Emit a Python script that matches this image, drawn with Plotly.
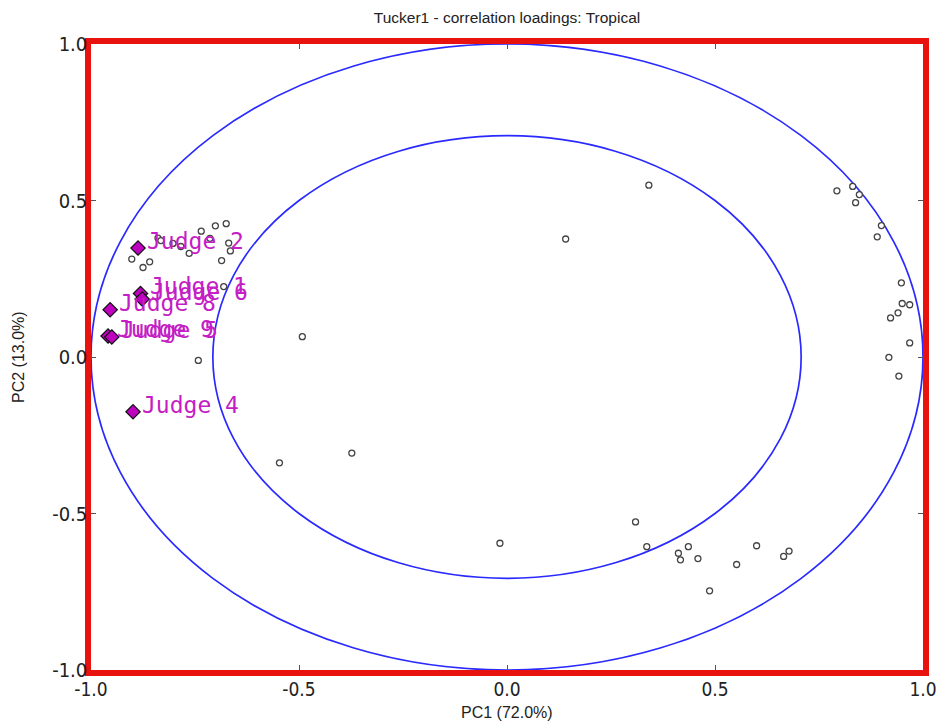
import plotly.graph_objects as go

# ---- data ----
title_text = "Tucker1 - correlation loadings: Tropical"
x_label = "PC1 (72.0%)"
y_label = "PC2 (13.0%)"
tick_vals = [-1.0, -0.5, 0.0, 0.5, 1.0]
tick_text = ["-1.0", "-0.5", "0.0", "0.5", "1.0"]
circle_radii = [1.0, 0.7071]

attr_x = [-0.902, -0.875, -0.859, -0.839, -0.832, -0.803, -0.784, -0.764, -0.735, -0.701,
          -0.675, -0.669, -0.665, -0.686, -0.681, -0.714, -0.742,
          -0.492, -0.547, -0.373, -0.017, 0.141, 0.341,
          0.309, 0.336, 0.412, 0.417, 0.436, 0.459, 0.487, 0.552, 0.600, 0.665, 0.678,
          0.793, 0.831, 0.847, 0.838, 0.900, 0.890, 0.948, 0.950, 0.968, 0.940, 0.922,
          0.968, 0.918, 0.942]
attr_y = [0.313, 0.286, 0.304, 0.380, 0.372, 0.363, 0.353, 0.331, 0.402, 0.419,
          0.426, 0.364, 0.339, 0.308, 0.225, 0.379, -0.011,
          0.065, -0.338, -0.307, -0.595, 0.377, 0.549,
          -0.527, -0.606, -0.627, -0.648, -0.606, -0.644, -0.747, -0.663, -0.603, -0.637, -0.620,
          0.531, 0.545, 0.519, 0.493, 0.420, 0.384, 0.237, 0.171, 0.167, 0.141, 0.125,
          0.045, -0.001, -0.061]

judge_names = ["Judge 2", "Judge 1", "Judge 6", "Judge 8", "Judge 9", "Judge 5", "Judge 4"]
judge_x = [-0.887, -0.881, -0.877, -0.954, -0.959, -0.950, -0.899]
judge_y = [0.348, 0.203, 0.185, 0.151, 0.067, 0.064, -0.175]

# ---- figure ----
# the page body has an 8px margin, so the figure is sized to fit the window
OFF = 8
W, H = 944 - OFF, 726 - OFF
ML, MT = 91 - OFF, 44 - OFF
MR = W - (923 - OFF)
MB = H - (670 - OFF)
label_font = dict(family="Liberation Sans, Arial, sans-serif", size=16, color="#222222")

fig = go.Figure()

for r in circle_radii:
    fig.add_shape(type="circle", xref="x", yref="y", x0=-r, x1=r, y0=-r, y1=r,
                  line=dict(color="#2a2aff", width=1.7), layer="below")

fig.add_trace(go.Scatter(
    x=attr_x, y=attr_y, mode="markers",
    marker=dict(symbol="circle", size=6, color="white",
                line=dict(color="#444444", width=1.3)),
    hoverinfo="skip", showlegend=False))

fig.add_trace(go.Scatter(
    x=judge_x, y=judge_y, mode="markers",
    marker=dict(symbol="diamond", size=11, color="#bf00bf",
                line=dict(color="#111111", width=1.2)),
    hoverinfo="skip", showlegend=False))

for name, jx, jy in zip(judge_names, judge_x, judge_y):
    fig.add_annotation(x=jx, y=jy, text=name, showarrow=False,
                       xanchor="left", yanchor="middle", xshift=7, yshift=7,
                       font=dict(family="DejaVu Sans Mono", size=23, color="#c41ec4"))

# axis titles
fig.add_annotation(text=x_label, xref="paper", yref="paper", x=0.5, y=0,
                   xanchor="center", yanchor="middle", yshift=-(712 - 670),
                   showarrow=False, font=label_font)
fig.add_annotation(text=y_label, xref="paper", yref="paper", x=0, y=0.5,
                   xanchor="center", yanchor="middle", xshift=-(91 - 18),
                   textangle=-90, showarrow=False, font=label_font)

axis_common = dict(
    range=[-1.0, 1.0], tickvals=tick_vals, ticktext=tick_text,
    showgrid=False, zeroline=False, automargin=False,
    showline=True, linecolor="#e8120f", linewidth=5.5, mirror="allticks",
    ticks="inside", ticklen=5, tickcolor="#555555", tickwidth=1,
    tickfont=dict(family="DejaVu Sans Condensed, DejaVu Sans", size=19, color="#222222"),
)

fig.update_layout(
    width=W, height=H,
    margin=dict(l=ML, r=MR, t=MT, b=MB),
    paper_bgcolor="white", plot_bgcolor="white",
    title=dict(text=title_text, x=0.5, xref="paper", y=1 - (18 - OFF) / H, yref="container",
               xanchor="center", yanchor="middle",
               font=dict(family="Liberation Sans, Arial, sans-serif", size=15.5, color="#222222")),
    xaxis=dict(**axis_common, ticklabelstandoff=-3),
    yaxis=dict(**{**axis_common,
                  "tickfont": dict(family="DejaVu Sans Condensed, DejaVu Sans", size=20, color="#222222")},
               ticklabelstandoff=-6),
)

fig.write_html("out.html")
